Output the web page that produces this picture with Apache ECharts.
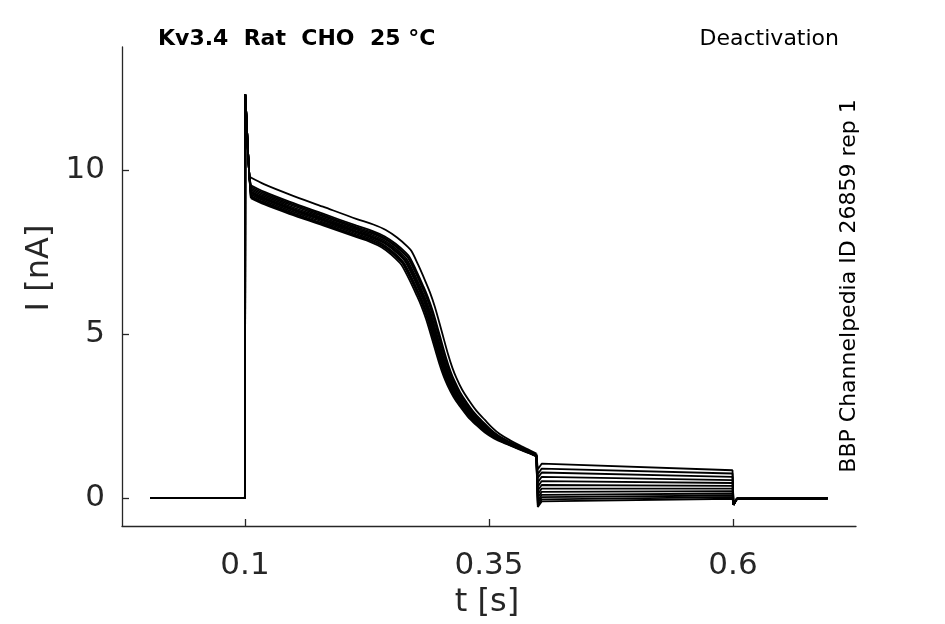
<!DOCTYPE html>
<html>
<head>
<meta charset="utf-8">
<script src="https://cdn.jsdelivr.net/npm/echarts@6/dist/echarts.min.js"></script>
<style>
  html, body { margin: 0; padding: 0; background: #fff; }
  #chart { width: 945px; height: 624px; }
</style>
</head>
<body>
<div id="chart"></div>
<script>
// activation spike, common to every sweep
const spikeT = [0.003, 0.0999, 0.1, 0.1003, 0.1015, 0.103, 0.1045];
const spikeI = [0, 0, 0.3, 12.3, 11.6, 10.6, 9.8];

// slow inactivation during the 0.1 - 0.4 s pulse (bundle centre)
const bodyT = [0.106, 0.12, 0.1454, 0.1799, 0.2141, 0.23, 0.2418, 0.2523, 0.2623, 0.2657,
  0.2725, 0.2793, 0.2845, 0.2895, 0.2964, 0.3032, 0.3075, 0.3117, 0.3175, 0.3237,
  0.332, 0.3408, 0.349, 0.3579, 0.37, 0.3818, 0.392, 0.3985];
const bodyI = [9.35, 9.15, 8.86, 8.5, 8.14, 7.98, 7.82, 7.6, 7.33, 7.2,
  6.8, 6.36, 6.0, 5.58, 4.88, 4.18, 3.8, 3.5, 3.16, 2.88,
  2.55, 2.28, 2.05, 1.86, 1.68, 1.52, 1.39, 1.3];
// how much of each sweep's time offset shows at each body point
const shiftWeight = [0, 0, 0, 0, 0.1, 0.3, 0.5, 0.7, 0.9, 1,
  1, 1, 1, 1, 1, 1, 1, 1, 1, 1,
  1, 1, 0.9, 0.7, 0.4, 0.2, 0.05, 0];

// per sweep spread read from the bundle
const sweepGain = [1.045, 1.02, 1.015, 1.01, 1.005, 1.0, 0.998, 0.995, 0.99, 0.985, 0.982, 0.978];
const sweepShift = [0.005, 0.003, 0.002, 0.0025, 0.001, 0, -0.001, 0.0005, -0.002, -0.003, -0.0015, -0.004];

// deactivation step 0.4 - 0.6 s, level at start and end of step
const stepStart = [1.05, 0.9, 0.78, 0.65, 0.52, 0.4, 0.29, 0.19, 0.1, 0.03, -0.04, -0.1];
const stepEnd = [0.85, 0.75, 0.65, 0.55, 0.46, 0.37, 0.29, 0.21, 0.14, 0.08, 0.03, -0.02];

// return to holding
const tailT = [0.6005, 0.604, 0.697];
const tailI = [-0.2, -0.02, -0.01];

const xTicks = [0.1, 0.35, 0.6];
const yTicks = [0, 5, 10];

const txt = '#262626';
const font = 'DejaVu Sans';

function bodyPoints(k) {
  let d = [];
  for (let i = 0; i < bodyT.length; i++) {
    d.push([bodyT[i] + sweepShift[k] * shiftWeight[i], bodyI[i] * sweepGain[k]]);
  }
  return d;
}

function edgePoints(k, body) {
  // spike before the body, steps after it; kept unsmoothed
  let head = [];
  for (let i = 0; i < spikeT.length; i++) head.push([spikeT[i], spikeI[i]]);
  head.push(body[0]);
  let tail = [body[body.length - 1]];
  tail.push([0.4, stepStart[k] - 0.17]);
  tail.push([0.404, stepStart[k]]);
  tail.push([0.5995, stepEnd[k]]);
  for (let i = 0; i < tailT.length; i++) tail.push([tailT[i], tailI[i]]);
  return head.concat([null], tail);
}

const line = {color: '#000', width: 1.8};
let series = [];
for (let k = 0; k < sweepGain.length; k++) {
  let body = bodyPoints(k);
  series.push({type: 'line', data: body, showSymbol: false, smooth: 0.35, lineStyle: line, silent: true});
  series.push({type: 'line', data: edgePoints(k, body), showSymbol: false, connectNulls: false, lineStyle: line, silent: true});
}

let chart = echarts.init(document.getElementById('chart'));
let option = {
  animation: false,
  backgroundColor: '#fff',
  grid: {left: 122, right: 89, top: 47, bottom: 98},
  xAxis: {
    type: 'value',
    min: -0.026,
    max: 0.726,
    axisLine: {show: true, onZero: false, lineStyle: {color: txt, width: 1.3}},
    axisTick: {show: true, inside: true, length: 7, customValues: xTicks, lineStyle: {color: txt, width: 1.3}},
    axisLabel: {customValues: xTicks, formatter: v => String(v), color: txt, fontSize: 31, fontFamily: font, margin: 24},
    splitLine: {show: false},
  },
  yAxis: {
    type: 'value',
    min: -0.85,
    max: 13.75,
    axisLine: {show: true, onZero: false, lineStyle: {color: txt, width: 1.3}},
    axisTick: {show: true, inside: true, length: 7, customValues: yTicks, lineStyle: {color: txt, width: 1.3}},
    axisLabel: {customValues: yTicks, formatter: v => String(v), color: txt, fontSize: 31, fontFamily: font, margin: 17},
    splitLine: {show: false},
  },
  graphic: [
    {type: 'text', left: 158, top: 28, style: {text: 'Kv3.4  Rat  CHO  25 °C', fill: '#000', font: 'bold 22px "DejaVu Sans"'}},
    {type: 'text', x: 839, y: 39, style: {text: 'Deactivation', fill: '#000', font: '22px "DejaVu Sans"', align: 'right', verticalAlign: 'middle'}},
    {type: 'text', x: 849, y: 286, rotation: Math.PI / 2, style: {text: 'BBP Channelpedia ID 26859 rep 1', fill: '#000', font: '22px "DejaVu Sans"', align: 'center', verticalAlign: 'middle'}},
    {type: 'text', x: 40, y: 268, rotation: Math.PI / 2, style: {text: 'I [nA]', fill: txt, font: '32px "DejaVu Sans"', align: 'center', verticalAlign: 'middle'}},
    {type: 'text', x: 487, y: 603, style: {text: 't [s]', fill: txt, font: '32px "DejaVu Sans"', align: 'center', verticalAlign: 'middle'}},
  ],
  series: series,
};
chart.setOption(option);
</script>
</body>
</html>
